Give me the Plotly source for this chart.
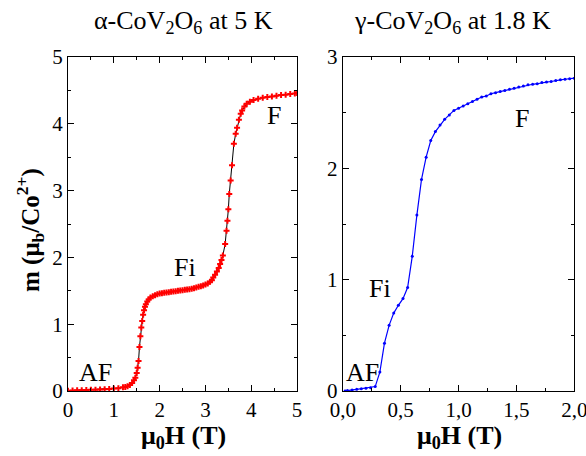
import plotly.graph_objects as go

# alpha-CoV2O6 at 5 K
h_alpha = [0.0, 0.1, 0.2, 0.3, 0.4, 0.5, 0.6, 0.7, 0.8, 0.9, 1.0, 1.1, 1.2, 1.25, 1.3,
           1.35, 1.4, 1.44, 1.47, 1.5, 1.52, 1.54, 1.56, 1.58, 1.6, 1.62, 1.64, 1.66,
           1.68, 1.7, 1.73, 1.76, 1.8, 1.85, 1.9, 1.95, 2.0, 2.05, 2.1, 2.15, 2.2, 2.25,
           2.3, 2.35, 2.4, 2.45, 2.5, 2.55, 2.6, 2.65, 2.7, 2.75, 2.8, 2.85, 2.9, 2.95,
           3.0, 3.05, 3.1, 3.14, 3.17, 3.21, 3.25, 3.29, 3.32, 3.35, 3.38, 3.43, 3.46,
           3.48, 3.5, 3.52, 3.55, 3.58, 3.62, 3.66, 3.69, 3.73, 3.77, 3.8, 3.85, 3.9,
           3.97, 4.05, 4.15, 4.25, 4.35, 4.45, 4.55, 4.65, 4.75, 4.85, 4.95, 5.0]
m_alpha = [0.005, 0.008, 0.01, 0.012, 0.015, 0.018, 0.02, 0.024, 0.028, 0.032, 0.036,
           0.042, 0.055, 0.062, 0.072, 0.09, 0.12, 0.16, 0.2, 0.27, 0.35, 0.45, 0.66,
           0.82, 0.95, 1.05, 1.14, 1.21, 1.26, 1.3, 1.34, 1.37, 1.4, 1.42, 1.435, 1.45,
           1.46, 1.465, 1.47, 1.475, 1.48, 1.485, 1.49, 1.495, 1.5, 1.505, 1.51, 1.515,
           1.52, 1.525, 1.53, 1.54, 1.55, 1.56, 1.57, 1.58, 1.595, 1.61, 1.635, 1.66,
           1.7, 1.74, 1.79, 1.84, 1.9, 1.96, 2.03, 2.2, 2.4, 2.55, 2.72, 2.95, 3.15,
           3.38, 3.7, 3.85, 3.94, 4.06, 4.15, 4.2, 4.26, 4.3, 4.33, 4.355, 4.375, 4.39,
           4.4, 4.41, 4.42, 4.43, 4.435, 4.445, 4.455, 4.46]

# gamma-CoV2O6 at 1.8 K
h_gamma = [0.02, 0.04, 0.08, 0.12, 0.16, 0.20, 0.24, 0.28, 0.32, 0.36, 0.40, 0.44, 0.48,
           0.52, 0.56, 0.60, 0.64, 0.68, 0.72, 0.76, 0.80, 0.84, 0.88, 0.92, 0.96, 1.00,
           1.04, 1.08, 1.12, 1.16, 1.20, 1.24, 1.28, 1.32, 1.36, 1.40, 1.44, 1.48, 1.52,
           1.56, 1.60, 1.64, 1.68, 1.72, 1.76, 1.80, 1.84, 1.88, 1.92, 1.96, 2.00]
m_gamma = [0.0, 0.005, 0.01, 0.015, 0.02, 0.025, 0.03, 0.04, 0.17, 0.43, 0.59, 0.70,
           0.77, 0.83, 0.93, 1.21, 1.58, 1.90, 2.10, 2.25, 2.33, 2.39, 2.44, 2.48, 2.52,
           2.54, 2.56, 2.58, 2.60, 2.62, 2.64, 2.65, 2.67, 2.68, 2.69, 2.70, 2.71, 2.72,
           2.73, 2.74, 2.75, 2.755, 2.76, 2.77, 2.775, 2.78, 2.79, 2.795, 2.80, 2.805, 2.81]

FONT = "Liberation Serif"

fig = go.Figure()
fig.add_trace(go.Scatter(x=h_alpha, y=m_alpha, mode="lines+markers",
                         line=dict(color="black", width=1),
                         marker=dict(symbol="cross", size=5, color="red"),
                         xaxis="x", yaxis="y", showlegend=False))
fig.add_trace(go.Scatter(x=h_gamma, y=m_gamma, mode="lines+markers",
                         line=dict(color="blue", width=1.2),
                         marker=dict(symbol="circle", size=3, color="blue"),
                         xaxis="x2", yaxis="y2", showlegend=False))

ax_common = dict(showline=True, linecolor="black", linewidth=1, mirror="ticks",
                 ticks="inside", ticklen=6, tickcolor="black", showgrid=False,
                 zeroline=False, automargin=False, ticklabeloverflow="allow",
                 tickfont=dict(family=FONT, size=21, color="black"))

y_dom = [0.1425, 0.875]
fig.update_layout(
    width=586, height=456,
    margin=dict(l=0, r=0, t=0, b=0, autoexpand=False),
    paper_bgcolor="white", plot_bgcolor="white", separators=",.",
    xaxis=dict(domain=[0.116, 0.507], range=[0, 5], dtick=1, tick0=0,
               minor=dict(ticks="inside", dtick=0.5, ticklen=3, tickcolor="black"),
               anchor="y", **ax_common),
    yaxis=dict(domain=y_dom, range=[0, 5], dtick=1, tick0=0,
               minor=dict(ticks="inside", dtick=0.5, ticklen=3, tickcolor="black"),
               anchor="x", **ax_common),
    xaxis2=dict(domain=[0.585, 0.980], range=[0, 2], dtick=0.5, tick0=0,
                tickformat=".1f",
                minor=dict(ticks="inside", dtick=0.25, ticklen=3, tickcolor="black"),
                anchor="y2", **ax_common),
    yaxis2=dict(domain=y_dom, range=[0, 3], dtick=1, tick0=0,
                minor=dict(ticks="inside", dtick=0.5, ticklen=3, tickcolor="black"),
                anchor="x2", **ax_common),
)

def txt(x, y, s, size=26, angle=0, xref="paper", yref="paper"):
    fig.add_annotation(x=x, y=y, xref=xref, yref=yref, text=s, showarrow=False,
                       textangle=angle,
                       font=dict(family=FONT, size=size, color="black"),
                       xanchor="center", yanchor="middle")

# titles
txt(183 / 586, 1 - 22 / 456, "α-CoV<sub>2</sub>O<sub>6</sub> at 5 K", size=26)
txt(452 / 586, 1 - 22 / 456, "γ-CoV<sub>2</sub>O<sub>6</sub> at 1.8 K", size=26)
# axis titles
txt(183 / 586, 1 - 437 / 456, "<b>μ<sub>0</sub>H (T)</b>", size=26)
txt(459 / 586, 1 - 437 / 456, "<b>μ<sub>0</sub>H (T)</b>", size=26)
txt(30 / 586, 1 - 230 / 456, "<b>m (μ<sub>b</sub>/Co<sup>2+</sup>)</b>", size=25, angle=-90)
# phase labels
txt(0.6, 0.28, "AF", xref="x", yref="y")
txt(2.56, 1.85, "Fi", xref="x", yref="y")
txt(4.5, 4.13, "F", xref="x", yref="y")
txt(0.17, 0.17, "AF", xref="x2", yref="y2")
txt(0.32, 0.92, "Fi", xref="x2", yref="y2")
txt(1.55, 2.45, "F", xref="x2", yref="y2")

fig.write_html("out.html")
